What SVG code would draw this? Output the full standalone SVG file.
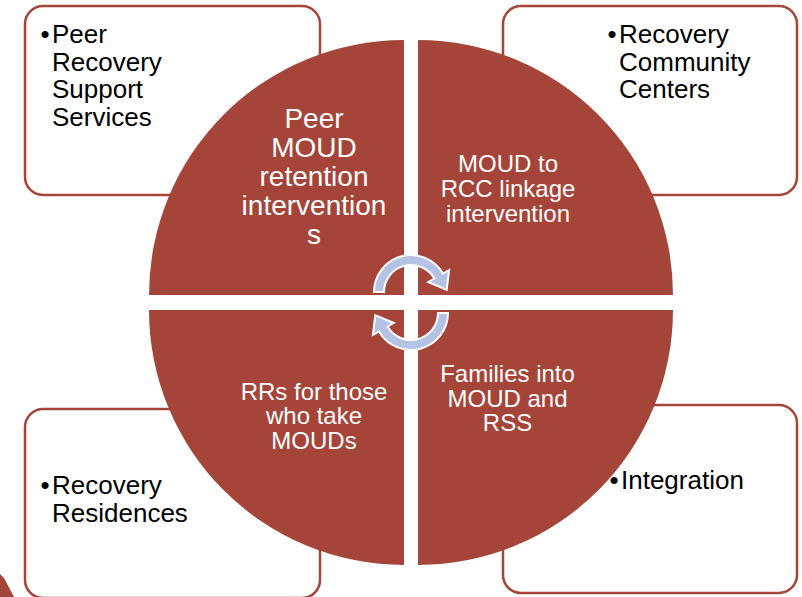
<svg xmlns="http://www.w3.org/2000/svg" width="802" height="597" viewBox="0 0 802 597">
<style>
.box{fill:#ffffff;stroke:#A5453A;stroke-width:2.5}
.quad{fill:#A5453A}
.bt{font-family:"Liberation Sans",Arial,sans-serif;font-size:26px;fill:#000000}
.qt{font-family:"Liberation Sans",Arial,sans-serif;fill:#ffffff;text-anchor:middle}
.arr{fill:#B4C2E3;stroke:#ffffff;stroke-width:2;stroke-linejoin:miter}
</style>
<rect width="802" height="597" fill="#ffffff"/>
<g id="box-peer-recovery">
<rect class="box" x="25" y="6" width="295" height="189" rx="18"/>
<text class="bt"><tspan x="40.5" y="43">•</tspan><tspan x="52" y="43">Peer</tspan><tspan x="52" y="70.5">Recovery</tspan><tspan x="52" y="98">Support</tspan><tspan x="52" y="125.5">Services</tspan></text>
</g>
<g id="box-rcc">
<rect class="box" x="503" y="6" width="294" height="189" rx="18"/>
<text class="bt"><tspan x="607.5" y="43">•</tspan><tspan x="619" y="43">Recovery</tspan><tspan x="619" y="70.5">Community</tspan><tspan x="619" y="98">Centers</tspan></text>
</g>
<g id="box-residences">
<rect class="box" x="25" y="409" width="295" height="189" rx="18"/>
<text class="bt"><tspan x="40.5" y="494">•</tspan><tspan x="52" y="494">Recovery</tspan><tspan x="52" y="521.5">Residences</tspan></text>
</g>
<g id="box-integration">
<rect class="box" x="503" y="405" width="294" height="188" rx="18"/>
<text class="bt"><tspan x="609.5" y="489">•</tspan><tspan x="621" y="489">Integration</tspan></text>
</g>
<polygon points="0,574 4,578 14,597 0,597" fill="#A5453A"/>
<g id="quad-peer-moud">
<path class="quad" d="M404 295 L149 295 A255 255 0 0 1 404 40 Z"/>
<text class="qt" font-size="28"><tspan x="314" y="128">Peer</tspan><tspan x="314" y="157">MOUD</tspan><tspan x="314" y="186">retention</tspan><tspan x="314" y="215">intervention</tspan><tspan x="314" y="243.5">s</tspan></text>
</g>
<g id="quad-moud-rcc">
<path class="quad" d="M418 295 L418 40 A255 255 0 0 1 673 295 Z"/>
<text class="qt" font-size="24"><tspan x="508" y="172">MOUD to</tspan><tspan x="508" y="197">RCC linkage</tspan><tspan x="508" y="222">intervention</tspan></text>
</g>
<g id="quad-rrs">
<path class="quad" d="M404 310 L404 565 A255 255 0 0 1 149 310 Z"/>
<text class="qt" font-size="24"><tspan x="314" y="399.5">RRs for those</tspan><tspan x="314" y="424">who take</tspan><tspan x="314" y="448.5">MOUDs</tspan></text>
</g>
<g id="quad-families">
<path class="quad" d="M418 310 L673 310 A255 255 0 0 1 418 565 Z"/>
<text class="qt" font-size="24"><tspan x="507.5" y="381.5">Families into</tspan><tspan x="507.5" y="406.5">MOUD and</tspan><tspan x="507.5" y="431">RSS</tspan></text>
</g>
<g id="connectors">
<path class="arr" d="M374 292 A37 37 0 0 1 443 273.5 L449.1 270 L446.7 289.9 L428.3 282 L434.4 278.5 A27 27 0 0 0 384 292 Z"/>
<path class="arr" d="M448 313 A37 37 0 0 1 379 331.5 L372.9 335 L375.3 315.1 L393.7 323 L387.6 326.5 A27 27 0 0 0 438 313 Z"/>
</g>
</svg>
